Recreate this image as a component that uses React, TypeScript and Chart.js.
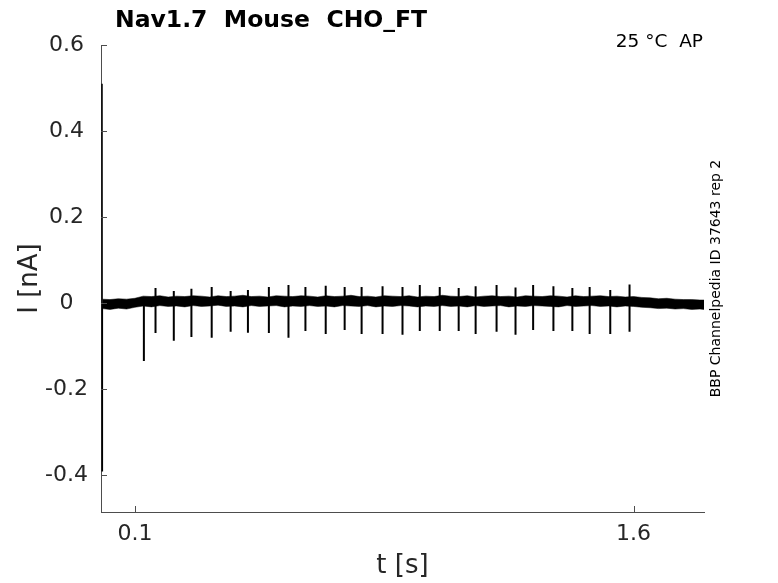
import { useEffect, useRef } from 'react'
import { Chart, registerables } from 'chart.js'

Chart.register(...registerables)

// spike train (t in s, current in nA)
const spikeTimes = [0.127, 0.162, 0.217, 0.270, 0.331, 0.388, 0.440, 0.503, 0.562, 0.613, 0.674, 0.731, 0.782, 0.845,
  0.905, 0.957, 1.017, 1.074, 1.125, 1.188, 1.245, 1.298, 1.359, 1.416, 1.468, 1.530, 1.588]
const spikeMax = [0.012, 0.035, 0.028, 0.033, 0.037, 0.028, 0.030, 0.037, 0.042, 0.037, 0.040, 0.037, 0.037, 0.039,
  0.037, 0.042, 0.037, 0.035, 0.039, 0.042, 0.036, 0.042, 0.039, 0.035, 0.037, 0.030, 0.043]
const spikeMin = [-0.135, -0.070, -0.088, -0.079, -0.081, -0.067, -0.069, -0.070, -0.081, -0.065, -0.072, -0.063, -0.072, -0.072,
  -0.074, -0.065, -0.065, -0.065, -0.072, -0.067, -0.074, -0.063, -0.065, -0.065, -0.072, -0.072, -0.067]

// capacitive transient at the start of the sweep
const transientT = [0.001, 0.0015, 0.002]
const transientI = [0.51, -0.39, 0.0]

// baseline noise band (upper / lower edge)
const bandTimes = [0.002, 0.025, 0.05, 0.075, 0.1, 0.125, 0.15, 0.175, 0.2, 0.225, 0.25, 0.275, 0.3, 0.325, 0.35, 0.375,
  0.4, 0.425, 0.45, 0.475, 0.5, 0.525, 0.55, 0.575, 0.6, 0.625, 0.65, 0.675, 0.7, 0.725, 0.75, 0.775, 0.8, 0.825, 0.85,
  0.875, 0.9, 0.925, 0.95, 0.975, 1.0, 1.025, 1.05, 1.075, 1.1, 1.125, 1.15, 1.175, 1.2, 1.225, 1.25, 1.275, 1.3, 1.325,
  1.35, 1.375, 1.4, 1.425, 1.45, 1.475, 1.5, 1.525, 1.55, 1.575, 1.6, 1.625, 1.65, 1.675, 1.7, 1.725, 1.75, 1.775, 1.8,
  1.812]
const bandUpper = [0.009, 0.008, 0.010, 0.009, 0.011,
  0.016, 0.015, 0.017, 0.014, 0.016, 0.015, 0.017, 0.016, 0.014, 0.017,
  0.015, 0.016, 0.018, 0.015, 0.016, 0.014, 0.017, 0.016, 0.015, 0.017,
  0.016, 0.014, 0.017, 0.015, 0.016, 0.018, 0.015, 0.016, 0.014, 0.017,
  0.016, 0.015, 0.017, 0.014, 0.016, 0.015, 0.018, 0.016, 0.015, 0.017,
  0.014, 0.016, 0.017, 0.015, 0.016, 0.014, 0.017, 0.016, 0.015, 0.017,
  0.016, 0.014, 0.017, 0.015, 0.016, 0.017, 0.015, 0.016, 0.014, 0.015,
  0.013, 0.012, 0.010, 0.011, 0.009, 0.008, 0.008, 0.007, 0.007]
const bandLower = [-0.013, -0.015, -0.012, -0.014, -0.010,
  -0.007, -0.009, -0.006, -0.008, -0.007, -0.009, -0.006, -0.008, -0.007, -0.005,
  -0.008, -0.007, -0.009, -0.006, -0.008, -0.007, -0.006, -0.009, -0.007, -0.008,
  -0.006, -0.008, -0.007, -0.009, -0.006, -0.007, -0.008, -0.006, -0.009, -0.007,
  -0.008, -0.006, -0.007, -0.009, -0.007, -0.008, -0.006, -0.008, -0.007, -0.009,
  -0.006, -0.008, -0.007, -0.006, -0.009, -0.007, -0.008, -0.006, -0.007, -0.008,
  -0.009, -0.006, -0.008, -0.007, -0.006, -0.008, -0.007, -0.009, -0.007, -0.008,
  -0.010, -0.011, -0.013, -0.012, -0.014, -0.013, -0.015, -0.014, -0.015]

const xTicks = [0.1, 1.6]
const yTicks = [-0.4, -0.2, 0, 0.2, 0.4, 0.6]

const FONT = '"DejaVu Sans", sans-serif'
const AXIS = '#262626'

const decorations = {
  id: 'decorations',
  afterDraw(chart: Chart) {
    const { ctx, chartArea, scales } = chart
    const { left, right, top, bottom } = chartArea
    ctx.save()
    // inward tick marks
    ctx.strokeStyle = '#4d4d4d'
    ctx.lineWidth = 1
    ctx.beginPath()
    yTicks.forEach((v) => {
      const y = Math.round(scales.y.getPixelForValue(v)) + 0.5
      ctx.moveTo(left, y)
      ctx.lineTo(left + 6, y)
    })
    xTicks.forEach((v) => {
      const x = Math.round(scales.x.getPixelForValue(v)) + 0.5
      ctx.moveTo(x, bottom)
      ctx.lineTo(x, bottom - 6)
    })
    ctx.stroke()

    ctx.fillStyle = '#000'
    ctx.textBaseline = 'alphabetic'
    ctx.font = `bold 23.5px ${FONT}`
    ctx.textAlign = 'left'
    ctx.fillText('Nav1.7  Mouse  CHO_FT', 115, 27)

    ctx.font = `18.5px ${FONT}`
    ctx.textAlign = 'right'
    ctx.fillText('25 °C  AP', 703, 47)

    ctx.fillStyle = AXIS
    ctx.font = `26px ${FONT}`
    ctx.textAlign = 'center'
    ctx.textBaseline = 'middle'
    ctx.fillText('t [s]', (left + right) / 2, 566)

    ctx.save()
    ctx.translate(30, (top + bottom) / 2)
    ctx.rotate(-Math.PI / 2)
    ctx.fillText('I [nA]', 0, 0)
    ctx.restore()

    ctx.fillStyle = '#000'
    ctx.font = `14px ${FONT}`
    ctx.save()
    ctx.translate(716, (top + bottom) / 2)
    ctx.rotate(-Math.PI / 2)
    ctx.fillText('BBP Channelpedia ID 37643 rep 2', 0, 0)
    ctx.restore()

    ctx.restore()
  },
}

export default function App() {
  const canvasRef = useRef<HTMLCanvasElement>(null)
  const chartRef = useRef<Chart | null>(null)

  useEffect(() => {
    if (!canvasRef.current) return
    const ctx = canvasRef.current.getContext('2d')
    if (!ctx) return

    if (chartRef.current) chartRef.current.destroy()

    const spikePoints: { x: number; y: number | null }[] = []
    spikeTimes.forEach((t, i) => {
      spikePoints.push({ x: t, y: spikeMax[i] })
      spikePoints.push({ x: t, y: spikeMin[i] })
      spikePoints.push({ x: t, y: null })
    })

    chartRef.current = new Chart(ctx, {
      type: 'line',
      data: {
        datasets: [
          {
            data: bandTimes.map((t, i) => ({ x: t, y: bandUpper[i] })),
            borderColor: '#000',
            backgroundColor: '#000',
            borderWidth: 0.5,
            pointRadius: 0,
            fill: '+1',
          },
          {
            data: bandTimes.map((t, i) => ({ x: t, y: bandLower[i] })),
            borderColor: '#000',
            borderWidth: 0.5,
            pointRadius: 0,
            fill: false,
          },
          {
            data: spikePoints,
            borderColor: '#000',
            borderWidth: 2,
            pointRadius: 0,
            spanGaps: false,
            fill: false,
          },
          {
            data: transientT.map((t, i) => ({ x: t, y: transientI[i] })),
            borderColor: '#000',
            borderWidth: 1.5,
            pointRadius: 0,
            fill: false,
          },
        ],
      },
      options: {
        animation: false,
        responsive: true,
        maintainAspectRatio: false,
        layout: { padding: { left: 0, top: 45, right: 74, bottom: 0 } },
        plugins: { legend: { display: false }, tooltip: { enabled: false } },
        scales: {
          x: {
            type: 'linear',
            min: -0.002,
            max: 1.812,
            afterBuildTicks: (axis) => {
              axis.ticks = xTicks.map((v) => ({ value: v }))
            },
            afterFit: (axis) => {
              axis.height = 71
            },
            grid: { display: false, drawTicks: false },
            border: { display: true, color: '#4d4d4d', width: 1 },
            ticks: {
              color: AXIS,
              font: { family: FONT, size: 22 },
              padding: 9,
              maxRotation: 0,
              callback: (v) => Number(v).toFixed(1),
            },
          },
          y: {
            type: 'linear',
            min: -0.486,
            max: 0.6,
            afterBuildTicks: (axis) => {
              axis.ticks = yTicks.map((v) => ({ value: v }))
            },
            afterFit: (axis) => {
              axis.width = 101
            },
            grid: { display: false, drawTicks: false },
            border: { display: true, color: '#4d4d4d', width: 1 },
            ticks: {
              color: AXIS,
              font: { family: FONT, size: 22 },
              padding: 13,
              crossAlign: 'center',
              callback: (v) => (Number(v) === 0 ? '0' : Number(v).toFixed(1)),
            },
          },
        },
      },
      plugins: [decorations],
    })

    return () => {
      if (chartRef.current) {
        chartRef.current.destroy()
        chartRef.current = null
      }
    }
  }, [])

  return (
    <div style={{ position: 'fixed', left: 0, top: 0, width: 778, height: 583, background: '#fff' }}>
      <canvas ref={canvasRef} />
    </div>
  )
}
